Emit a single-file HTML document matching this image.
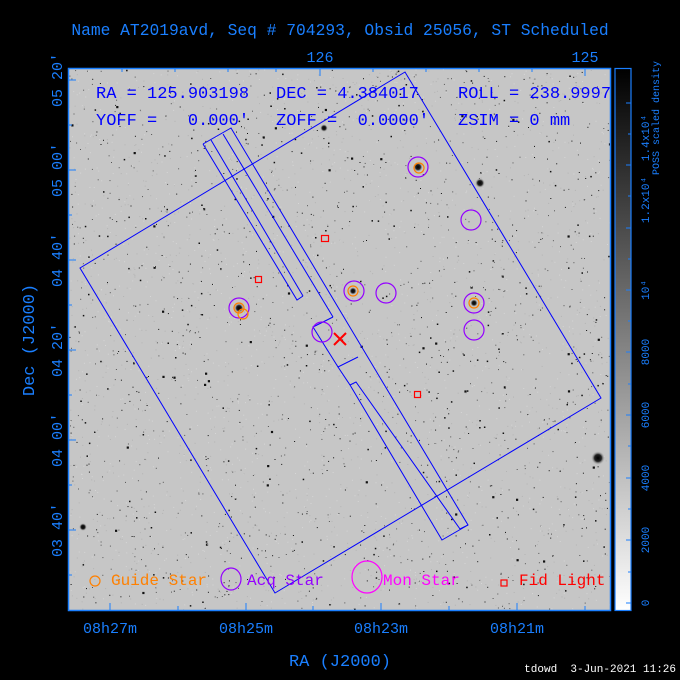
<!DOCTYPE html>
<html><head><meta charset="utf-8"><style>
body{margin:0;background:#000;width:680px;height:680px;overflow:hidden}
svg{display:block}
text{font-family:"Liberation Mono",monospace;white-space:pre}
</style></head><body>
<svg id="s" width="680" height="680" viewBox="0 0 680 680" xmlns="http://www.w3.org/2000/svg" xml:space="preserve">
<defs>
<linearGradient id="cb" x1="0" y1="1" x2="0" y2="0">
<stop offset="0" stop-color="#fff"/><stop offset="1" stop-color="#000"/>
</linearGradient>
<radialGradient id="st"><stop offset="0" stop-color="#000"/><stop offset="0.5" stop-color="#222"/><stop offset="1" stop-color="#c6c6c6" stop-opacity="0"/></radialGradient>
</defs>
<rect x="68" y="68" width="543" height="543" fill="#c6c6c6"/>
<g id="dots"></g>
<circle cx="480" cy="183" r="5" fill="url(#st)"/>
<circle cx="598" cy="458" r="7" fill="url(#st)"/>
<circle cx="83" cy="527" r="4" fill="url(#st)"/>
<circle cx="418" cy="167" r="5" fill="url(#st)"/>
<circle cx="239" cy="308" r="5" fill="url(#st)"/>
<circle cx="353" cy="291" r="4" fill="url(#st)"/>
<circle cx="474" cy="303" r="4" fill="url(#st)"/>
<circle cx="324" cy="128" r="4" fill="url(#st)"/>
<rect x="68.5" y="68.5" width="542" height="542" fill="none" stroke="#1a7fff" stroke-width="1.5"/>
<g stroke="#1a7fff" stroke-width="1">
<line x1="110" y1="611" x2="110" y2="603"/><line x1="246" y1="611" x2="246" y2="603"/><line x1="381" y1="611" x2="381" y2="603"/><line x1="517" y1="611" x2="517" y2="603"/>
<line x1="178" y1="611" x2="178" y2="606"/><line x1="313" y1="611" x2="313" y2="606"/><line x1="449" y1="611" x2="449" y2="606"/><line x1="585" y1="611" x2="585" y2="606"/>
<line x1="320" y1="68" x2="320" y2="76"/><line x1="585" y1="68" x2="585" y2="76"/>
<line x1="122" y1="68" x2="122" y2="72"/><line x1="175" y1="68" x2="175" y2="72"/><line x1="228" y1="68" x2="228" y2="72"/><line x1="276" y1="68" x2="276" y2="72"/><line x1="373" y1="68" x2="373" y2="72"/><line x1="426" y1="68" x2="426" y2="72"/><line x1="479" y1="68" x2="479" y2="72"/><line x1="532" y1="68" x2="532" y2="72"/>
<line x1="68" y1="80" x2="76" y2="80"/><line x1="68" y1="170" x2="76" y2="170"/><line x1="68" y1="260" x2="76" y2="260"/><line x1="68" y1="350" x2="76" y2="350"/><line x1="68" y1="440" x2="76" y2="440"/><line x1="68" y1="530" x2="76" y2="530"/>
<line x1="68" y1="125" x2="72" y2="125"/><line x1="68" y1="215" x2="72" y2="215"/><line x1="68" y1="305" x2="72" y2="305"/><line x1="68" y1="395" x2="72" y2="395"/><line x1="68" y1="485" x2="72" y2="485"/><line x1="68" y1="575" x2="72" y2="575"/>
</g>
<g fill="none" stroke="#0000ff" stroke-width="1">
<polygon points="80,268 405,72 601,398 275,593"/>
<polyline points="203,144 297,300 303,296"/>
<polyline points="211,140 303,296"/>
<polyline points="223,134 333,317"/>
<polyline points="203,144 231,128 468,525 442,540 350,385 356,382 460,529 468,525"/>
<polyline points="333,317 313,327 338,367 358,357"/>
<polyline points="338,367 350,385"/>
</g>
<g fill="none" stroke="#9400ff" stroke-width="1.2">
<circle cx="418" cy="167" r="10"/><circle cx="471" cy="220" r="10"/><circle cx="354" cy="291" r="10"/><circle cx="386" cy="293" r="10"/><circle cx="474" cy="303" r="10"/><circle cx="474" cy="330" r="10"/><circle cx="239" cy="308" r="10"/><circle cx="322" cy="332" r="10"/>
</g>
<g fill="none" stroke="#ff8000" stroke-width="1.2">
<circle cx="419" cy="168" r="5"/><circle cx="353" cy="291" r="5"/><circle cx="474" cy="303" r="5"/><circle cx="239" cy="308" r="5"/><circle cx="243" cy="314" r="5"/>
</g>
<g fill="none" stroke="#ff0000" stroke-width="1.2">
<rect x="321.5" y="235.5" width="7" height="6"/><rect x="255.5" y="276.5" width="6" height="6"/><rect x="414.5" y="391.5" width="6" height="6"/>
<line x1="334" y1="333" x2="346" y2="345" stroke-width="2"/><line x1="346" y1="333" x2="334" y2="345" stroke-width="2"/>
</g>
<g fill="#0000ff" font-size="17">
<text x="96" y="98">RA = 125.903198</text><text x="276" y="98">DEC = 4.384017</text><text x="458" y="98">ROLL = 238.9997</text>
<text x="96" y="125">YOFF =   0.000'</text><text x="276" y="125">ZOFF =  0.0000'</text><text x="458" y="125">ZSIM = 0 mm</text>
</g>
<circle cx="95" cy="581" r="5" fill="none" stroke="#ff8000" stroke-width="1.2"/>
<text x="111" y="585" fill="#ff8000" font-size="16">Guide Star</text>
<ellipse cx="231" cy="579" rx="10" ry="11" fill="none" stroke="#9400ff" stroke-width="1.2"/>
<text x="247" y="585" fill="#9400ff" font-size="16">Acq Star</text>
<ellipse cx="367" cy="577" rx="15" ry="16" fill="none" stroke="#ff00ff" stroke-width="1.2"/>
<text x="383" y="585" fill="#ff00ff" font-size="16">Mon Star</text>
<rect x="501" y="580" width="6" height="6" fill="none" stroke="#ff0000" stroke-width="1.2"/>
<text x="519" y="585" fill="#ff0000" font-size="16">Fid Light</text>
<rect x="615" y="68" width="16" height="543" fill="url(#cb)"/>
<rect x="615" y="68.5" width="16" height="542" fill="none" stroke="#1a7fff" stroke-width="1.2"/>
<g stroke="#1a7fff"><line x1="626" y1="603" x2="631" y2="603"/><line x1="626" y1="540" x2="631" y2="540"/><line x1="626" y1="478" x2="631" y2="478"/><line x1="626" y1="415" x2="631" y2="415"/><line x1="626" y1="352" x2="631" y2="352"/><line x1="626" y1="290" x2="631" y2="290"/><line x1="626" y1="228" x2="631" y2="228"/><line x1="626" y1="165" x2="631" y2="165"/><line x1="626" y1="103" x2="631" y2="103"/>
<line x1="628" y1="572" x2="631" y2="572"/><line x1="628" y1="509" x2="631" y2="509"/><line x1="628" y1="446" x2="631" y2="446"/><line x1="628" y1="384" x2="631" y2="384"/><line x1="628" y1="321" x2="631" y2="321"/><line x1="628" y1="259" x2="631" y2="259"/><line x1="628" y1="196" x2="631" y2="196"/><line x1="628" y1="134" x2="631" y2="134"/></g>
<g fill="#1a7fff" font-size="11">
<text transform="translate(649,603) rotate(-90)" text-anchor="middle">0</text>
<text transform="translate(649,540) rotate(-90)" text-anchor="middle">2000</text>
<text transform="translate(649,478) rotate(-90)" text-anchor="middle">4000</text>
<text transform="translate(649,415) rotate(-90)" text-anchor="middle">6000</text>
<text transform="translate(649,352) rotate(-90)" text-anchor="middle">8000</text>
<text transform="translate(649,290) rotate(-90)" text-anchor="middle">10⁴</text>
<text transform="translate(649,200) rotate(-90)" text-anchor="middle">1.2x10⁴</text>
<text transform="translate(649,138) rotate(-90)" text-anchor="middle">1.4x10⁴</text>
<text transform="translate(659,118) rotate(-90)" text-anchor="middle" font-size="10">POSS scaled density</text>
</g>
<text x="340" y="35" fill="#1a7fff" font-size="16.3" text-anchor="middle">Name AT2019avd, Seq # 704293, Obsid 25056, ST Scheduled</text>
<g fill="#1a7fff" font-size="15" text-anchor="middle">
<text x="320" y="62">126</text><text x="585" y="62">125</text>
<text x="110" y="633">08h27m</text><text x="246" y="633">08h25m</text><text x="381" y="633">08h23m</text><text x="517" y="633">08h21m</text>
<text x="340" y="666" font-size="17">RA (J2000)</text>
<text transform="translate(62,80) rotate(-90)">05 20'</text>
<text transform="translate(62,170) rotate(-90)">05 00'</text>
<text transform="translate(62,260) rotate(-90)">04 40'</text>
<text transform="translate(62,350) rotate(-90)">04 20'</text>
<text transform="translate(62,440) rotate(-90)">04 00'</text>
<text transform="translate(62,530) rotate(-90)">03 40'</text>
<text transform="translate(34,340) rotate(-90)" font-size="17">Dec (J2000)</text>
</g>
<text x="676" y="672" fill="#fff" font-size="11" text-anchor="end" font-family="Liberation Sans, sans-serif">tdowd  3-Jun-2021 11:26</text>
</svg>
<script>
(function(){var g=document.getElementById('dots');var s=12345;function r(){s=(s*1103515245+12345)%2147483648;return s/2147483648;}
var h='';for(var i=0;i<1600;i++){var x=69+r()*541,y=69+r()*541,q=r();var sz=q<0.85?1:(q<0.97?1.5:2.2);var c=q<0.5?'#555':'#111';h+='<rect x="'+x.toFixed(1)+'" y="'+y.toFixed(1)+'" width="'+sz+'" height="'+sz+'" fill="'+c+'"/>';}
for(var j=0;j<2500;j++){var x2=69+r()*541,y2=69+r()*541;h+='<rect x="'+x2.toFixed(1)+'" y="'+y2.toFixed(1)+'" width="1" height="1" fill="'+(r()<0.5?'#b4b4b4':'#d6d6d6')+'"/>';}
g.innerHTML=h;})();
</script>
</body></html>
